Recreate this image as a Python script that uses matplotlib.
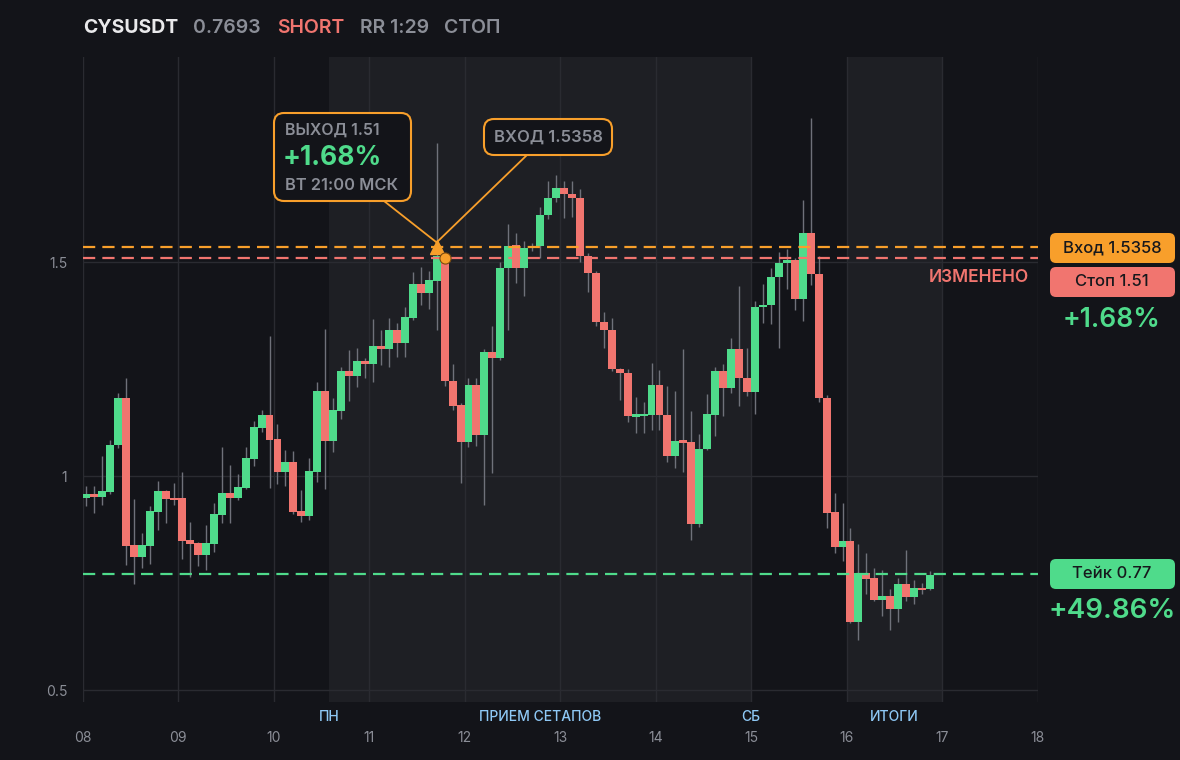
import numpy as np
import matplotlib.pyplot as plt
from matplotlib.patches import FancyBboxPatch, ConnectionPatch

plt.rcParams['font.family'] = ['Inter', 'DejaVu Sans']

# 2h candles starting 08 00:00
opens = [0.949, 0.958, 0.952, 0.963, 1.072, 1.182, 0.838, 0.811, 0.837, 0.917,
         0.965, 0.949, 0.949, 0.850, 0.844, 0.815, 0.841, 0.910, 0.960, 0.949,
         0.972, 1.040, 1.112, 1.143, 1.086, 1.009, 1.033, 0.918, 0.907, 1.010,
         1.199, 1.082, 1.153, 1.245, 1.234, 1.269, 1.262, 1.304, 1.296, 1.340,
         1.311, 1.370, 1.449, 1.428, 1.456, 1.505, 1.223, 1.165, 1.080, 1.213,
         1.096, 1.290, 1.276, 1.486, 1.540, 1.487, 1.532, 1.537, 1.610, 1.649,
         1.672, 1.660, 1.649, 1.515, 1.474, 1.359, 1.342, 1.250, 1.240, 1.139,
         1.141, 1.142, 1.213, 1.142, 1.047, 1.082, 1.079, 0.889, 1.062, 1.143,
         1.245, 1.206, 1.297, 1.230, 1.197, 1.394, 1.400, 1.464, 1.498, 1.505,
         1.414, 1.568, 1.473, 1.183, 0.915, 0.833, 0.847, 0.660, 0.773, 0.761,
         0.711, 0.720, 0.690, 0.748, 0.718, 0.738, 0.735]
highs = [0.976, 0.976, 1.047, 1.084, 1.194, 1.229, 0.946, 0.867, 0.930, 0.988,
         0.968, 0.984, 1.009, 0.893, 0.846, 0.886, 0.937, 1.068, 1.026, 1.005,
         1.068, 1.128, 1.155, 1.327, 1.121, 1.061, 1.058, 0.967, 1.042, 1.220,
         1.343, 1.182, 1.255, 1.294, 1.300, 1.275, 1.366, 1.340, 1.370, 1.357,
         1.396, 1.476, 1.489, 1.480, 1.777, 1.512, 1.262, 1.170, 1.228, 1.228,
         1.296, 1.350, 1.500, 1.588, 1.567, 1.550, 1.545, 1.629, 1.690, 1.703,
         1.690, 1.690, 1.670, 1.520, 1.480, 1.384, 1.370, 1.252, 1.250, 1.185,
         1.172, 1.265, 1.248, 1.210, 1.199, 1.297, 1.152, 1.098, 1.192, 1.255,
         1.262, 1.322, 1.444, 1.300, 1.409, 1.449, 1.487, 1.523, 1.530, 1.510,
         1.645, 1.836, 1.514, 1.190, 0.960, 0.936, 0.879, 0.841, 0.820, 0.785,
         0.780, 0.735, 0.762, 0.827, 0.757, 0.750, 0.777]
lows = [0.931, 0.914, 0.933, 0.958, 1.065, 0.793, 0.748, 0.786, 0.795, 0.875,
        0.891, 0.933, 0.806, 0.765, 0.790, 0.780, 0.822, 0.890, 0.890, 0.944,
        0.970, 1.023, 1.103, 0.972, 0.981, 0.977, 0.911, 0.893, 0.897, 0.986,
        0.970, 1.056, 1.133, 1.176, 1.209, 1.230, 1.220, 1.260, 1.255, 1.277,
        1.277, 1.365, 1.400, 1.390, 1.341, 1.210, 1.154, 0.984, 1.068, 1.070,
        0.932, 1.006, 1.270, 1.341, 1.450, 1.421, 1.525, 1.509, 1.600, 1.640,
        1.602, 1.605, 1.500, 1.431, 1.350, 1.300, 1.245, 1.178, 1.127, 1.101,
        1.101, 1.107, 1.108, 1.033, 1.019, 1.010, 0.850, 0.880, 1.060, 1.093,
        1.141, 1.194, 1.164, 1.188, 1.146, 1.358, 1.355, 1.300, 1.437, 1.388,
        1.363, 1.446, 1.174, 0.878, 0.821, 0.802, 0.657, 0.618, 0.725, 0.708,
        0.674, 0.641, 0.660, 0.708, 0.700, 0.725, 0.734]
closes = [0.958, 0.952, 0.965, 1.072, 1.182, 0.837, 0.811, 0.838, 0.918, 0.965,
          0.947, 0.944, 0.848, 0.842, 0.815, 0.844, 0.911, 0.960, 0.949, 0.974,
          1.042, 1.114, 1.143, 1.084, 1.009, 1.033, 0.916, 0.907, 1.012, 1.199,
          1.082, 1.154, 1.245, 1.234, 1.269, 1.262, 1.304, 1.296, 1.340, 1.311,
          1.372, 1.449, 1.428, 1.458, 1.515, 1.223, 1.164, 1.080, 1.213, 1.096,
          1.290, 1.276, 1.486, 1.537, 1.487, 1.532, 1.537, 1.610, 1.649, 1.672,
          1.660, 1.649, 1.515, 1.474, 1.359, 1.341, 1.250, 1.240, 1.140, 1.142,
          1.143, 1.213, 1.142, 1.047, 1.082, 1.078, 0.889, 1.063, 1.145, 1.245,
          1.206, 1.297, 1.230, 1.197, 1.395, 1.400, 1.465, 1.498, 1.505, 1.414,
          1.568, 1.473, 1.183, 0.914, 0.833, 0.847, 0.660, 0.773, 0.760, 0.711,
          0.720, 0.690, 0.748, 0.718, 0.738, 0.734, 0.7693]

day_labels = ['08', '09', '10', '11', '12', '13', '14', '15', '16', '17', '18']
y_ticks = [0.5, 1, 1.5]
y_tick_labels = ['0.5', '1', '1.5']

# sessions (in days from 08 00:00)
sessions = [(2 + 14 / 24, 7.0), (8.0, 9.0)]
session_labels = [('ПН', 2 + 14 / 24), ('ПРИЕМ СЕТАПОВ', (2 + 14 / 24 + 7.0) / 2),
                  ('СБ', 7.0), ('ИТОГИ', 8.5)]

symbol = 'CYSUSDT'
last_price = 0.7693
entry_price = 1.5358
stop_price = 1.51
take_price = 0.77
entry_idx = 44
stop_idx = 45

bg = '#131419'
shade = '#1e1f24'
grid_c = '#2a2b31'
green = '#4fdb8b'
red = '#f1756f'
orange = '#f89f2b'
grey = '#8b8e97'
wick_c = '#6f717a'
blue = '#8ec8f5'

fig = plt.figure(figsize=(11.8, 7.6), dpi=100, facecolor=bg)
ax = fig.add_axes([82.5 / 1180, 1 - 702 / 760, 955 / 1180, 645 / 760])
ax.set_facecolor(bg)

o = np.array(opens)
h = np.array(highs)
l = np.array(lows)
c = np.array(closes)
x = (np.arange(len(o)) + 0.5) / 12
up = c >= o
cols = np.where(up, green, red)

for a, b in sessions:
    ax.axvspan(a, b, color=shade, zorder=0, lw=0)

ax.vlines(x, l, h, color=wick_c, lw=1, zorder=2)
bottoms = np.minimum(o, c)
heights = np.maximum(np.abs(c - o), 0.005)
ax.bar(x, heights, bottom=bottoms, width=1 / 12, color=cols, lw=0, zorder=3)

# levels
ax.axhline(entry_price, color=orange, lw=1.6, dashes=(5.5, 3.2), zorder=5)
ax.axhline(stop_price, color=red, lw=1.6, dashes=(5.5, 3.2), zorder=5)
ax.axhline(take_price, color=green, lw=1.6, dashes=(5.5, 3.2), zorder=5)

ex = (entry_idx + 0.5) / 12
sx = (stop_idx + 0.5) / 12
ax.plot(ex, entry_price, marker='^', ms=10, color=orange, zorder=7)
ax.plot(sx, stop_price, marker='o', ms=8, color=orange, mec='#7a4a10', mew=0.8, zorder=7)

ax.set_xlim(0, 10)
ax.set_ylim(0.472, 1.979)
ax.set_xticks(range(len(day_labels)))
ax.set_xticklabels(day_labels)
ax.set_yticks(y_ticks)
ax.set_yticklabels(y_tick_labels)
ax.tick_params(axis='x', length=0, pad=21, colors=grey, labelsize=10)
ax.tick_params(axis='y', length=0, pad=11, colors=grey, labelsize=10)
ax.grid(True, color=grid_c, lw=1, zorder=1)
ax.set_axisbelow(True)
for s in ax.spines.values():
    s.set_visible(False)

for name, pos in session_labels:
    ax.text(pos, -0.024, name, transform=ax.get_xaxis_transform(), ha='center', va='center',
            color=blue, fontsize=10, fontweight='medium')

# header
fig.text(83 / 1180, 1 - 28 / 760, symbol, color='#e9e9eb', fontsize=14, fontweight='bold', va='center')
fig.text(193 / 1180, 1 - 28 / 760, f'{last_price}', color=grey, fontsize=14, fontweight='semibold', va='center')
fig.text(277 / 1180, 1 - 28 / 760, 'SHORT', color=red, fontsize=14, fontweight='semibold', va='center')
fig.text(360 / 1180, 1 - 28 / 760, 'RR 1:29', color=grey, fontsize=14, fontweight='semibold', va='center')
fig.text(444 / 1180, 1 - 28 / 760, 'СТОП', color=grey, fontsize=14, fontweight='semibold', va='center')

inch = fig.dpi_scale_trans


def px(xp, yp):
    return xp / 100, (760 - yp) / 100


# callout boxes
b1 = FancyBboxPatch(px(274, 201), 1.37, 0.88, boxstyle='round,pad=0,rounding_size=0.1',
                    transform=inch, fc=bg, ec=orange, lw=1.5, zorder=10)
fig.add_artist(b1)
fig.text(*px(285, 130), f'ВЫХОД {stop_price}', transform=inch, color=grey, fontsize=11.5,
         fontweight='semibold', va='center', zorder=11)
fig.text(*px(283, 158), '+1.68%', transform=inch, color=green, fontsize=19,
         fontweight='bold', va='center', zorder=11)
fig.text(*px(285, 185), 'ВТ 21:00 МСК', transform=inch, color=grey, fontsize=11.8,
         fontweight='semibold', va='center', zorder=11)

b2 = FancyBboxPatch(px(484, 155), 1.28, 0.36, boxstyle='round,pad=0,rounding_size=0.1',
                    transform=inch, fc=bg, ec=orange, lw=1.5, zorder=10)
fig.add_artist(b2)
fig.text(*px(548, 137), f'ВХОД {entry_price}', transform=inch, color=grey, fontsize=12,
         fontweight='semibold', ha='center', va='center', zorder=11)

for start in [px(384, 201), px(527, 155)]:
    con = ConnectionPatch(xyA=start, coordsA=inch, xyB=(ex, entry_price + 0.01), coordsB=ax.transData,
                          color=orange, lw=1.3, zorder=6)
    fig.add_artist(con)

# right side labels
right_boxes = [(233, orange, f'Вход {entry_price}'), (267, red, f'Стоп {stop_price}'),
               (559, green, f'Тейк {take_price}')]
for top, col, txt in right_boxes:
    bx = FancyBboxPatch(px(1050, top + 30), 1.25, 0.30, boxstyle='round,pad=0,rounding_size=0.06',
                        transform=inch, fc=col, ec='none', zorder=10)
    fig.add_artist(bx)
    fig.text(*px(1112, top + 15), txt, transform=inch, color='#17181c', fontsize=12,
             fontweight='medium', ha='center', va='center', zorder=11)

fig.text(*px(1112, 320), '+1.68%', transform=inch, color=green, fontsize=19,
         fontweight='semibold', ha='center', va='center')
fig.text(*px(1112, 611), '+49.86%', transform=inch, color=green, fontsize=20,
         fontweight='semibold', ha='center', va='center')
fig.text(*px(1029, 278), 'ИЗМЕНЕНО', transform=inch, color=red, fontsize=12.5,
         fontweight='semibold', ha='right', va='center')

fig.savefig('out.png', dpi=100, facecolor=bg)
